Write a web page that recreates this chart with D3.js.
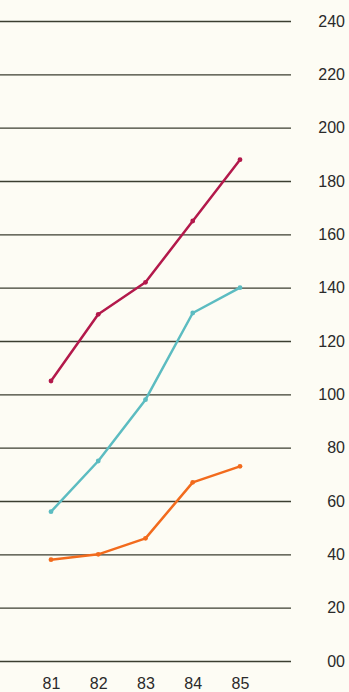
<!DOCTYPE html>
<html>
<head>
<meta charset="utf-8">
<script src="https://cdn.jsdelivr.net/npm/d3@7/dist/d3.min.js"></script>
<style>
  html, body { margin: 0; padding: 0; background: #fdfcf4; }
  svg { display: block; }
</style>
</head>
<body>
<svg id="chart" width="349" height="692"></svg>
<script>
// Years along the bottom
const years = ["81", "82", "83", "84", "85"];
// Three series, one value per year
const seriesRed = [105, 130, 142, 165, 188];
const seriesTeal = [56, 75, 98, 130.5, 140];
const seriesOrange = [38, 40, 46, 67, 73];
// Right-hand scale labels
const yTicks = [0, 20, 40, 60, 80, 100, 120, 140, 160, 180, 200, 220, 240];
const yTickLabels = ["00", "20", "40", "60", "80", "100", "120", "140", "160", "180", "200", "220", "240"];

const series = [
  { name: "red", values: seriesRed, color: "#b3194b" },
  { name: "teal", values: seriesTeal, color: "#5cbcc1" },
  { name: "orange", values: seriesOrange, color: "#f26b1d" }
];

const svg = d3.select("#chart");

const x = d3.scalePoint().domain(years).range([51, 240]);
const y = d3.scaleLinear().domain([0, 240]).range([661, 21]);

// Horizontal rules with values on the right
const yAxis = d3.axisRight(y)
  .tickValues(yTicks)
  .tickSize(291)
  .tickPadding(0)
  .tickFormat((d, i) => yTickLabels[i]);

const gy = svg.append("g").call(yAxis);
gy.select(".domain").remove();
gy.selectAll(".tick line")
  .attr("stroke", "#3b3e30")
  .attr("stroke-width", 1.3);
gy.selectAll(".tick text")
  .attr("x", 345)
  .attr("text-anchor", "end")
  .attr("dy", "0.33em")
  .attr("fill", "#2a2a2a")
  .style("font-family", "Liberation Sans, Arial, sans-serif")
  .style("font-size", "16px");

// Year labels
const xAxis = d3.axisBottom(x).tickSize(0).tickPadding(0);
const gx = svg.append("g").attr("transform", "translate(0,678)").call(xAxis);
gx.select(".domain").remove();
gx.selectAll(".tick text")
  .attr("dy", "0.71em")
  .attr("fill", "#2a2a2a")
  .style("font-family", "Liberation Sans, Arial, sans-serif")
  .style("font-size", "16px");

// Series lines
const line = d3.line()
  .x((d, i) => x(years[i]))
  .y(d => y(d));

series.forEach(s => {
  svg.append("path")
    .datum(s.values)
    .attr("d", line)
    .attr("fill", "none")
    .attr("stroke", s.color)
    .attr("stroke-width", 2.5)
    .attr("stroke-linejoin", "round")
    .attr("stroke-linecap", "round");
  svg.selectAll(null)
    .data(s.values)
    .enter()
    .append("circle")
    .attr("cx", (d, i) => x(years[i]))
    .attr("cy", d => y(d))
    .attr("r", 2.4)
    .attr("fill", s.color);
});
</script>
</body>
</html>
